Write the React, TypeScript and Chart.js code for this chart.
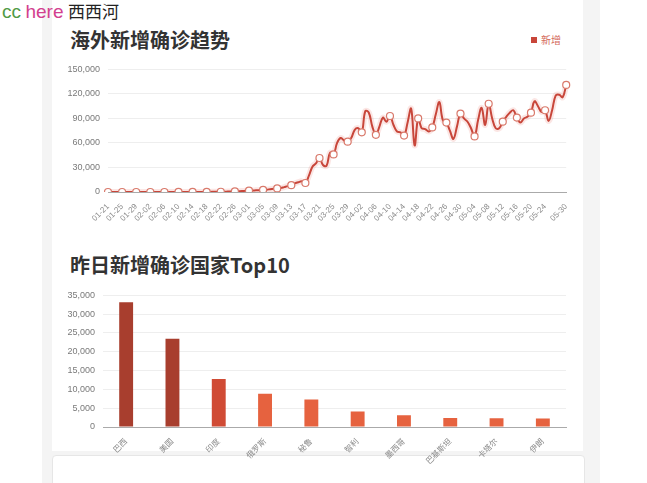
import React, { useEffect, useRef } from "react";
import { Chart, registerables } from "chart.js";

Chart.register(...registerables);

const trendDates: string[] = (() => {
  // calendar labels 01-21 .. 05-30 (2020)
  const months = [
    ["01", 21, 31],
    ["02", 1, 29],
    ["03", 1, 31],
    ["04", 1, 30],
    ["05", 1, 30],
  ] as const;
  const out: string[] = [];
  for (const [m, a, b] of months) {
    for (let d = a; d <= b; d++) out.push(`${m}-${String(d).padStart(2, "0")}`);
  }
  return out;
})();

const newCases: number[] = [
  10, 10, 15, 20, 25, 30, 20, 25, 15, 20,
  40, 30, 25, 30, 45, 40, 30, 40, 50, 30,
  45, 60, 50, 80, 60, 70, 80, 100, 120, 150,
  200, 250, 300, 400, 500, 600, 700, 900, 1100, 1400,
  1600, 1800, 2000, 2200, 2600, 2900, 3400, 3900, 4400, 4800,
  6000, 7200, 8300, 10500, 12000, 13000, 11000, 20000, 31000, 35000,
  41600, 33000, 32000, 48000, 46000, 60000, 66000, 63000, 61600, 66000,
  76000, 78000, 73000, 99000, 97000, 80000, 70000, 80000, 91000, 86000,
  93000, 82000, 74000, 73000, 69000, 85000, 102000, 57000, 90000, 78000,
  77000, 74000, 79000, 95000, 110000, 88000, 85000, 75000, 65000, 80000,
  96000, 90000, 86000, 78000, 68000, 88000, 103000, 82000, 108000, 90000,
  78000, 78000, 86000, 92000, 97000, 100000, 91000, 85000, 90000, 92000,
  97000, 111000, 105000, 98000, 100000, 87000, 100000, 118000, 119000, 116000,
  131000,
];

const countries = ["巴西", "美国", "印度", "俄罗斯", "秘鲁", "智利", "墨西哥", "巴基斯坦", "卡塔尔", "伊朗"];
const countryCases = [33200, 23500, 12750, 8850, 7300, 4150, 3100, 2400, 2300, 2250];
const barColors = ["#a83e2e", "#a83e2e", "#d04b35", "#e6623f", "#e6623f", "#e6623f", "#e6623f", "#e6623f", "#e6623f", "#e6623f"];

const trendTicks = [0, 30000, 60000, 90000, 120000, 150000];
const barTicks = [0, 5000, 10000, 15000, 20000, 25000, 30000, 35000];

const FONT = "'Liberation Sans', 'Noto Sans CJK SC', sans-serif";

function showLabel(i: number, n: number) {
  return (i % 4 === 0 && i < n - 3) || i === n - 1;
}

function TrendChart() {
  const ref = useRef<HTMLCanvasElement>(null);
  useEffect(() => {
    const n = trendDates.length;
    const chart = new Chart(ref.current!, {
      type: "line",
      data: {
        labels: trendDates,
        datasets: [
          {
            data: newCases,
            borderColor: "#c8463a",
            borderWidth: 2,
            tension: 0.4,
            pointRadius: (ctx: any) => (showLabel(ctx.dataIndex, n) ? 3.5 : 0),
            pointBackgroundColor: "#ffffff",
            pointBorderColor: "#d97a6c",
            pointBorderWidth: 1.2,
            fill: false,
          },
          {
            data: newCases,
            borderColor: "rgba(235,130,120,0.2)",
            borderWidth: 6,
            tension: 0.4,
            pointRadius: 0,
            fill: false,
          },
        ],
      },
      options: {
        animation: false,
        responsive: false,
        maintainAspectRatio: false,
        layout: { padding: { top: 11, right: 8, left: 0, bottom: 0 } },
        plugins: { legend: { display: false }, tooltip: { enabled: false } },
        scales: {
          x: {
            type: "category",
            grid: { display: false },
            border: { display: true, color: "#aaaaaa" },
            afterFit: (s: any) => {
              s.height = 32;
            },
            ticks: {
              autoSkip: false,
              maxRotation: 45,
              minRotation: 45,
              color: "#8a8a8a",
              font: { family: FONT, size: 8 },
              padding: 2,
              callback: (_v: any, i: number) => (showLabel(i, n) ? trendDates[i] : null),
            },
          },
          y: {
            min: 0,
            max: 150000,
            afterFit: (s: any) => {
              s.width = 48;
            },
            afterBuildTicks: (s: any) => {
              s.ticks = trendTicks.map((v) => ({ value: v }));
            },
            grid: { color: "#eeeeee", drawTicks: false },
            border: { display: false },
            ticks: {
              color: "#7a7a7a",
              font: { family: FONT, size: 9 },
              padding: 8,
              callback: (v: any) => Number(v).toLocaleString("en-US"),
            },
          },
        },
      },
    } as any);
    return () => chart.destroy();
  }, []);
  return (
    <canvas
      ref={ref}
      width={515}
      height={168}
      style={{ position: "absolute", left: 60, top: 56, width: 515, height: 168 }}
    />
  );
}

function BarChart() {
  const ref = useRef<HTMLCanvasElement>(null);
  useEffect(() => {
    const chart = new Chart(ref.current!, {
      type: "bar",
      data: {
        labels: countries,
        datasets: [
          {
            data: countryCases,
            backgroundColor: barColors,
            barPercentage: 0.3,
            categoryPercentage: 1,
          },
        ],
      },
      options: {
        animation: false,
        responsive: false,
        maintainAspectRatio: false,
        layout: { padding: { top: 11, right: 6, left: 0, bottom: 0 } },
        plugins: { legend: { display: false }, tooltip: { enabled: false } },
        scales: {
          x: {
            grid: { display: false },
            border: { display: true, color: "#aaaaaa" },
            afterFit: (s: any) => {
              s.height = 40;
            },
            ticks: {
              maxRotation: 45,
              minRotation: 45,
              color: "#8a8a8a",
              font: { family: FONT, size: 8 },
              padding: 2,
            },
          },
          y: {
            min: 0,
            max: 35000,
            afterFit: (s: any) => {
              s.width = 48;
            },
            afterBuildTicks: (s: any) => {
              s.ticks = barTicks.map((v) => ({ value: v }));
            },
            grid: { color: "#eeeeee", drawTicks: false },
            border: { display: false },
            ticks: {
              color: "#7a7a7a",
              font: { family: FONT, size: 9 },
              padding: 8,
              callback: (v: any) => Number(v).toLocaleString("en-US"),
            },
          },
        },
      },
    } as any);
    return () => chart.destroy();
  }, []);
  return (
    <canvas
      ref={ref}
      width={517}
      height={185}
      style={{ position: "absolute", left: 55, top: 282, width: 517, height: 185 }}
    />
  );
}

export default function App() {
  const titleStyle: React.CSSProperties = {
    position: "absolute",
    left: 70,
    fontFamily: "'Noto Sans CJK SC', sans-serif",
    fontWeight: 700,
    fontSize: 20,
    color: "#333333",
    lineHeight: "24px",
    whiteSpace: "nowrap",
  };
  return (
    <div
      style={{
        position: "fixed",
        left: 0,
        top: 0,
        width: 647,
        height: 483,
        background: "#ffffff",
        overflow: "hidden",
      }}
    >
      <div style={{ position: "absolute", left: 42, top: 0, width: 558, height: 483, background: "#f4f4f4" }} />
      <div style={{ position: "absolute", left: 52, top: 0, width: 531, height: 451, background: "#ffffff" }} />
      <div
        style={{
          position: "absolute",
          left: 52,
          top: 455,
          width: 531,
          height: 40,
          background: "#ffffff",
          border: "1px solid #e6e6e6",
          borderRadius: 4,
        }}
      />
      <div
        style={{
          position: "absolute",
          left: 2,
          top: 0,
          lineHeight: "22px",
          fontFamily: "'Liberation Sans', 'Noto Sans CJK SC', sans-serif",
          whiteSpace: "nowrap",
        }}
      >
        <span style={{ color: "#4f9a44", fontSize: 19 }}>cc</span>{" "}
        <span style={{ color: "#d2408e", fontSize: 19 }}>here</span>{" "}
        <span style={{ color: "#222222", fontSize: 17, fontFamily: "'Noto Sans CJK SC', serif" }}>西西河</span>
      </div>
      <div style={{ ...titleStyle, top: 28 }}>海外新增确诊趋势</div>
      <div style={{ position: "absolute", left: 531, top: 37, width: 6, height: 6, background: "#c8463a" }} />
      <div
        style={{
          position: "absolute",
          left: 541,
          top: 33,
          fontSize: 10,
          lineHeight: "14px",
          color: "#d46a5c",
          fontFamily: "'Noto Sans CJK SC', sans-serif",
        }}
      >
        新增
      </div>
      <TrendChart />
      <div style={{ ...titleStyle, top: 253 }}>昨日新增确诊国家Top10</div>
      <BarChart />
    </div>
  );
}
